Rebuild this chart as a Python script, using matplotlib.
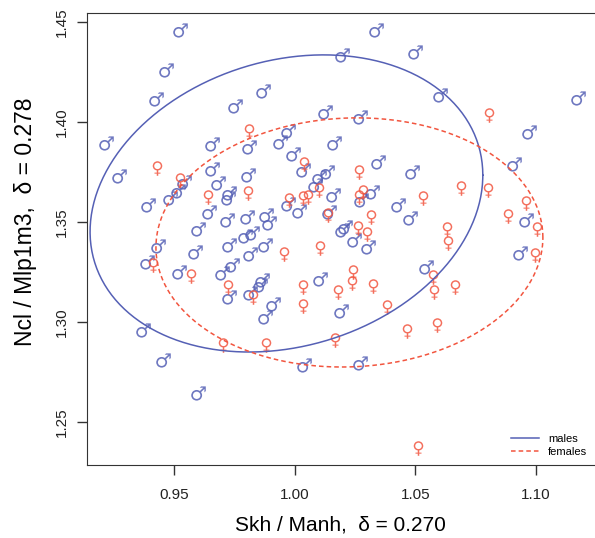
import matplotlib
matplotlib.use('Agg')
import matplotlib.pyplot as plt
import numpy as np

plt.rcParams['font.family'] = ['Liberation Sans', 'DejaVu Sans']

# males: Skh/Manh (x), Ncl/Mlp1m3 (y)
male_x = [0.9525, 0.9467, 0.9425, 0.9218, 0.9272, 0.9392, 0.9869, 0.9753, 1.0126, 0.9657,
          0.9811, 0.9939, 0.9972, 0.9993, 0.9657, 0.9807, 1.0035, 1.0134, 1.0101, 1.0084,
          1.0163, 0.9483, 0.9517, 0.9541, 0.9682, 0.9728, 0.9724, 0.9645, 0.9720, 0.9599,
          0.9802, 0.9881, 0.9894, 0.9972, 1.0018, 1.0159, 1.0142, 1.0196, 1.0209, 0.9794,
          0.9823, 0.9434, 0.9388, 0.9587, 0.9728, 0.9740, 0.9699, 0.9815, 0.9877, 0.9521,
          1.0105, 0.9728, 0.9815, 0.9865, 0.9856, 0.9910, 0.9877, 1.0192, 0.9372, 0.9454,
          1.0039, 0.9599, 1.0337, 1.0499, 1.0196, 1.0602, 1.1174, 1.0271, 1.0971, 1.0345,
          1.0486, 1.0909, 1.0320, 1.0275, 1.0428, 1.0478, 1.0959, 1.0246, 1.0304, 1.0544,
          1.0934, 1.0271]
male_y = [1.4463, 1.4263, 1.4118, 1.3898, 1.3733, 1.3588, 1.4158, 1.4083, 1.4053, 1.3893,
          1.3878, 1.3903, 1.3958, 1.3843, 1.3768, 1.3738, 1.3763, 1.3753, 1.3728, 1.3688,
          1.3898, 1.3623, 1.3658, 1.3703, 1.3698, 1.3648, 1.3623, 1.3553, 1.3513, 1.3468,
          1.3528, 1.3538, 1.3498, 1.3593, 1.3558, 1.3638, 1.3553, 1.3463, 1.3478, 1.3433,
          1.3448, 1.3383, 1.3303, 1.3353, 1.3388, 1.3288, 1.3248, 1.3343, 1.3388, 1.3253,
          1.3218, 1.3128, 1.3148, 1.3213, 1.3188, 1.3093, 1.3028, 1.3058, 1.2963, 1.2813,
          1.2788, 1.2648, 1.4463, 1.4353, 1.4338, 1.4138, 1.4123, 1.4028, 1.3953, 1.3803,
          1.3753, 1.3793, 1.3653, 1.3613, 1.3588, 1.3523, 1.3513, 1.3413, 1.3378, 1.3278,
          1.3348, 1.2798]

# females
female_x = [0.9811, 0.9430, 0.9525, 0.9641, 0.9807, 0.9977, 1.0039, 1.0035, 1.0055, 1.0101,
            1.0138, 1.0267, 1.0805, 1.0689, 1.0801, 1.0532, 1.0283, 1.0267, 1.0959, 1.0316,
            1.0884, 1.1004, 1.0631, 1.0262, 1.0300, 1.0635, 1.0105, 0.9956, 0.9413, 0.9570,
            0.9724, 0.9827, 1.0035, 1.0035, 1.0242, 1.0238, 1.0180, 1.0325, 1.0573, 1.0577,
            1.0664, 1.0383, 1.0590, 1.0466, 1.0167, 0.9703, 0.9881, 1.0996, 1.0511]
female_y = [1.3958, 1.3773, 1.3713, 1.3628, 1.3648, 1.3613, 1.3793, 1.3623, 1.3628, 1.3663,
            1.3538, 1.3753, 1.4038, 1.3673, 1.3663, 1.3623, 1.3653, 1.3628, 1.3598, 1.3528,
            1.3533, 1.3468, 1.3468, 1.3473, 1.3443, 1.3398, 1.3373, 1.3343, 1.3288, 1.3233,
            1.3178, 1.3128, 1.3178, 1.3083, 1.3253, 1.3198, 1.3153, 1.3183, 1.3228, 1.3153,
            1.3178, 1.3078, 1.2988, 1.2958, 1.2913, 1.2888, 1.2888, 1.3338, 1.2373]

# ellipses: centre, half widths, correlation
male_ell = (0.9966, 1.3595, 0.0814, 0.0743, 0.19)
female_ell = (1.0227, 1.3400, 0.0802, 0.0623, 0.04)

blue = '#5560b5'
red = '#f2553f'


def ellipse(cx, cy, hx, hy, r):
    t = np.linspace(0, 2 * np.pi, 300)
    ex = cx + hx * np.cos(t)
    ey = cy + hy * (r * np.cos(t) + np.sqrt(1 - r ** 2) * np.sin(t))
    return ex, ey


fig = plt.figure(figsize=(5.95, 5.38), dpi=100)
ax = fig.add_axes([0.1457, 0.1357, 0.8543, 0.8407])

ax.scatter(male_x, male_y, marker='$\u2642$', s=110, color=blue, linewidths=0, alpha=0.85)
ax.scatter(female_x, female_y, marker='$\u2640$', s=110, color=red, linewidths=0, alpha=0.85)

mx, my = ellipse(*male_ell)
fx, fy = ellipse(*female_ell)
ax.plot(mx, my, color=blue, lw=1.1, label='males')
ax.plot(fx, fy, color=red, lw=1.1, ls=(0, (3, 2)), label='females')

ax.set_xlim(0.9138, 1.1245)
ax.set_ylim(1.2287, 1.4549)
ax.set_xticks([0.95, 1.00, 1.05, 1.10])
ax.set_xticklabels(['0.95', '1.00', '1.05', '1.10'])
ax.set_yticks([1.25, 1.30, 1.35, 1.40, 1.45])
ax.set_yticklabels(['1.25', '1.30', '1.35', '1.40', '1.45'], rotation=90, va='center')
ax.tick_params(length=7.5, width=1, labelsize=11, color='#333333', labelcolor='#222222')
ax.tick_params(axis='x', pad=9)
ax.tick_params(axis='y', pad=5)
ax.spines['right'].set_visible(False)
for s in ['left', 'bottom', 'top']:
    ax.spines[s].set_color('#333333')

ax.set_xlabel('Skh / Manh,  \u03b4 = 0.270', fontsize=15, labelpad=10)
ax.set_ylabel('Ncl / Mlp1m3,  \u03b4 = 0.278', fontsize=16.5)
ax.yaxis.set_label_coords(-0.097, 0.537)

ax.legend(loc='lower right', frameon=False, fontsize=8, handlelength=2.5,
          borderaxespad=0.3, labelspacing=0.3)

plt.savefig('out.png', dpi=100)
